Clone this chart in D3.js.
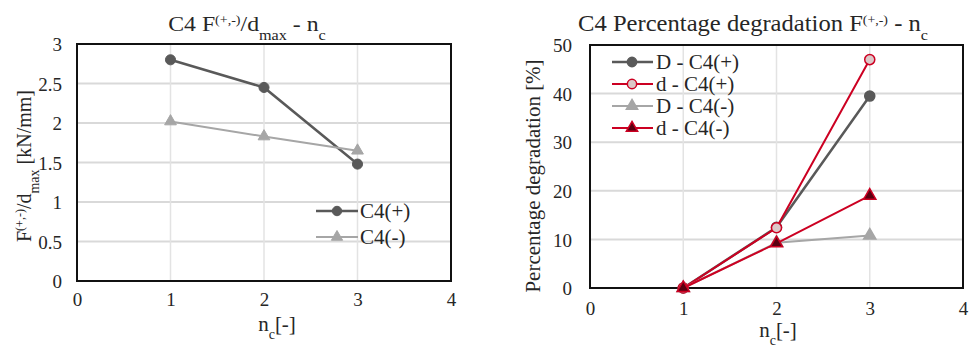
<!DOCTYPE html>
<html><head><meta charset="utf-8">
<script src="https://cdn.jsdelivr.net/npm/d3@7"></script>
<style>body{margin:0;background:#fff}</style>
</head><body><svg id="c" width="971" height="346" font-family="Liberation Serif"></svg>
<script>
// ---- data ----
const xTicks = [0, 1, 2, 3, 4];
const cycles = [1, 2, 3];
// Left chart: F/dmax [kN/mm]
const leftYTicks = [0, 0.5, 1, 1.5, 2, 2.5, 3];
const c4Plus = [2.80, 2.45, 1.48];
const c4Minus = [2.02, 1.83, 1.65];
// Right chart: percentage degradation [%]
const rightYTicks = [0, 10, 20, 30, 40, 50];
const D_c4Plus = [0, 12.5, 39.5];
const d_c4Plus = [0, 12.4, 47.0];
const D_c4Minus = [0, 9.3, 10.8];
const d_c4Minus = [0, 9.2, 19.0];

const FONT = "Liberation Serif";
const TXT = "#262626";
const svg = d3.select("#c");
const RED = "#cc0022";

function sym(g, type, x, y, size, fill, stroke, sw) {
  g.append("path")
    .attr("d", d3.symbol().type(type).size(size)())
    .attr("transform", `translate(${x},${y})`)
    .attr("fill", fill).attr("stroke", stroke).attr("stroke-width", sw);
}
// horizontal text, optionally stretched horizontally
function htxt(parent, x, y, size, anchor, sx) {
  return parent.append("g").attr("transform", `translate(${x},${y}) scale(${sx || 1},1)`)
    .append("text").attr("font-family", FONT).attr("fill", TXT).attr("font-size", size)
    .attr("text-anchor", anchor || "start");
}

function panel(opt) {
  const g = svg.append("g");
  const x = d3.scaleLinear().domain([0, 4]).range([opt.x0, opt.x1]);
  const y = d3.scaleLinear().domain(opt.yDomain).range([opt.y1, opt.y0]);
  g.append("g").selectAll("line").data(opt.yTicks.slice(1, -1)).join("line")
    .attr("x1", opt.x0).attr("x2", opt.x1).attr("y1", d => y(d)).attr("y2", d => y(d))
    .attr("stroke", "#d9d9d9").attr("stroke-width", 2);
  g.append("g").selectAll("line").data(xTicks.slice(1, -1)).join("line")
    .attr("y1", opt.y0).attr("y2", opt.y1).attr("x1", d => x(d)).attr("x2", d => x(d))
    .attr("stroke", "#e3e3e3").attr("stroke-width", 1.5);
  const ya = d3.axisLeft(y).tickValues(opt.yTicks).tickFormat(d => String(d)).tickSize(0).tickPadding(opt.yPad);
  const yg = g.append("g").attr("transform", `translate(${opt.x0},0)`).call(ya).attr("font-family", FONT);
  yg.select(".domain").remove();
  yg.selectAll("text").attr("font-size", 19).attr("fill", TXT).attr("font-family", FONT).attr("dy", "0.35em");
  const xa = d3.axisBottom(x).tickValues(xTicks).tickFormat(d => String(d)).tickSize(0).tickPadding(opt.xPad);
  const xg = g.append("g").attr("transform", `translate(0,${opt.y1})`).call(xa).attr("font-family", FONT);
  xg.select(".domain").remove();
  xg.selectAll("text").attr("font-size", 19).attr("fill", TXT).attr("font-family", FONT);
  g.append("rect").attr("x", opt.x0).attr("y", opt.y0).attr("width", opt.x1 - opt.x0).attr("height", opt.y1 - opt.y0)
    .attr("fill", "none").attr("stroke", "#111").attr("stroke-width", 2);
  return { g, x, y };
}
const line = (sx, sy) => d3.line().x((d, i) => sx(cycles[i])).y(d => sy(d));

// ---------- Left ----------
const L = panel({ x0: 77, x1: 451, y0: 44, y1: 281, yDomain: [0, 3], yTicks: leftYTicks, yPad: 15, xPad: 12 });
L.g.append("path").datum(c4Plus).attr("d", line(L.x, L.y)).attr("fill", "none").attr("stroke", "#595959").attr("stroke-width", 2.5);
c4Plus.forEach((v, i) => sym(L.g, d3.symbolCircle, L.x(cycles[i]), L.y(v), 80, "#595959", "#595959", 1));
L.g.append("path").datum(c4Minus).attr("d", line(L.x, L.y)).attr("fill", "none").attr("stroke", "#a6a6a6").attr("stroke-width", 2);
c4Minus.forEach((v, i) => sym(L.g, d3.symbolTriangle, L.x(cycles[i]), L.y(v), 60, "#a6a6a6", "#a6a6a6", 1));
const lgL = [["C4(+)", "#595959", d3.symbolCircle, 2.5, 211], ["C4(-)", "#a6a6a6", d3.symbolTriangle, 2, 237]];
lgL.forEach(([t, c, s, w, yy]) => {
  L.g.append("line").attr("x1", 316).attr("x2", 358).attr("y1", yy).attr("y2", yy).attr("stroke", c).attr("stroke-width", w);
  sym(L.g, s, 337, yy, s === d3.symbolCircle ? 70 : 55, c, c, 1);
  htxt(L.g, 360, yy + 7, 21).text(t);
});
const tL = htxt(svg, 247, 31, 22, "middle", 1.08);
tL.append("tspan").text("C4 F");
tL.append("tspan").attr("baseline-shift", "super").attr("font-size", 13).text("(+,-)");
tL.append("tspan").text("/d");
tL.append("tspan").attr("baseline-shift", "sub").attr("font-size", 15).text("max");
tL.append("tspan").text(" - n");
tL.append("tspan").attr("baseline-shift", "sub").attr("font-size", 15).text("c");
const yL = svg.append("text").attr("font-family", FONT).attr("fill", TXT)
  .attr("transform", "translate(31,166) rotate(-90)").attr("text-anchor", "middle").attr("font-size", 20);
yL.append("tspan").text("F");
yL.append("tspan").attr("baseline-shift", "super").attr("font-size", 12).text("(+,-)");
yL.append("tspan").text("/d");
yL.append("tspan").attr("baseline-shift", "sub").attr("font-size", 14).text("max");
yL.append("tspan").text(" [kN/mm]");
const xL = htxt(svg, 277, 331, 21, "middle");
xL.append("tspan").text("n");
xL.append("tspan").attr("baseline-shift", "sub").attr("font-size", 14).text("c");
xL.append("tspan").text("[-]");

// ---------- Right ----------
const R = panel({ x0: 590, x1: 963, y0: 45, y1: 288, yDomain: [0, 50], yTicks: rightYTicks, yPad: 18, xPad: 14 });
const seriesR = [
  { name: "D - C4(+)", data: D_c4Plus, stroke: "#595959", w: 2.5, sym: d3.symbolCircle, size: 80, fill: "#595959", mstroke: "#595959" },
  { name: "d - C4(+)", data: d_c4Plus, stroke: RED, w: 2, sym: d3.symbolCircle, size: 80, fill: "#dcc8c8", mstroke: RED },
  { name: "D - C4(-)", data: D_c4Minus, stroke: "#a6a6a6", w: 2, sym: d3.symbolTriangle, size: 65, fill: "#a6a6a6", mstroke: "#a6a6a6" },
  { name: "d - C4(-)", data: d_c4Minus, stroke: RED, w: 2, sym: d3.symbolTriangle, size: 65, fill: "#5a0010", mstroke: RED }
];
seriesR.forEach(s => {
  R.g.append("path").datum(s.data).attr("d", line(R.x, R.y)).attr("fill", "none").attr("stroke", s.stroke).attr("stroke-width", s.w);
  s.data.forEach((v, i) => sym(R.g, s.sym, R.x(cycles[i]), R.y(v), s.size, s.fill, s.mstroke, 1.5));
});
const lgY = [62, 84, 106, 128];
seriesR.forEach((s, i) => {
  const yy = lgY[i];
  R.g.append("line").attr("x1", 612).attr("x2", 653).attr("y1", yy).attr("y2", yy).attr("stroke", s.stroke).attr("stroke-width", s.w);
  sym(R.g, s.sym, 632, yy, s.size * 0.85, s.fill, s.mstroke, 1.5);
  htxt(R.g, 656, yy + 7, 21).text(s.name);
});
const tR = htxt(svg, 753, 31, 23, "middle", 1.07);
tR.append("tspan").text("C4 Percentage degradation F");
tR.append("tspan").attr("baseline-shift", "super").attr("font-size", 13).text("(+,-)");
tR.append("tspan").text(" - n");
tR.append("tspan").attr("baseline-shift", "sub").attr("font-size", 15).text("c");
svg.append("text").attr("font-family", FONT).attr("fill", TXT)
  .attr("transform", "translate(540,176) rotate(-90)").attr("text-anchor", "middle").attr("font-size", 21).text("Percentage degradation [%]");
const xR = htxt(svg, 778, 337, 21, "middle");
xR.append("tspan").text("n");
xR.append("tspan").attr("baseline-shift", "sub").attr("font-size", 14).text("c");
xR.append("tspan").text("[-]");
</script></body></html>
